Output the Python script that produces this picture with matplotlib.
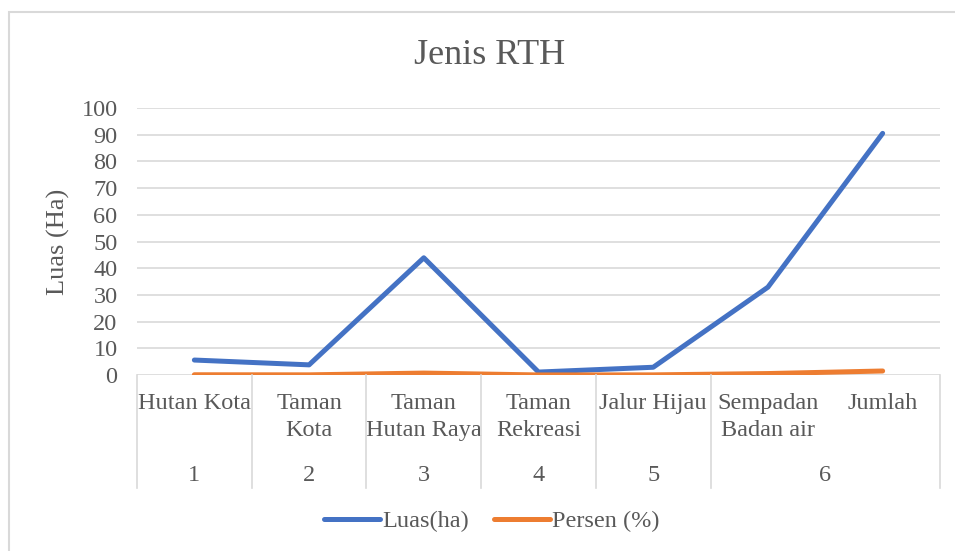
import matplotlib.pyplot as plt
from matplotlib.patches import Rectangle
from matplotlib.lines import Line2D
import matplotlib.transforms as mtransforms

plt.rcParams['font.family'] = ['Liberation Serif', 'DejaVu Serif']

# data
jenis = ["Hutan Kota", "Taman\nKota", "Taman\nHutan Raya", "Taman\nRekreasi",
         "Jalur Hijau", "Sempadan\nBadan air", "Jumlah"]
nomor = ["1", "2", "3", "4", "5", "6"]
nomor_pos = [0, 1, 2, 3, 4, 5.5]
luas = [5.6, 3.8, 43.9, 1.1, 2.9, 32.9, 90.5]
persen = [0.09, 0.06, 0.72, 0.02, 0.05, 0.54, 1.5]

TEXT = '#595959'
GRID = '#d9d9d9'
W, H = 955, 551
FS = 17.5

fig = plt.figure(figsize=(W / 100, H / 100), dpi=100)
ax = fig.add_axes([137 / W, 1 - 375 / H, 803 / W, 267 / H])

x = list(range(len(jenis)))
ax.plot(x, luas, color='#4472C4', lw=3.6, solid_capstyle='round',
        solid_joinstyle='round', label='Luas(ha)')
ax.plot(x, persen, color='#ED7D31', lw=3.6, solid_capstyle='round',
        solid_joinstyle='round', label='Persen (%)')

ax.set_xlim(-0.5, len(jenis) - 0.5)
ax.set_ylim(0, 100)
ax.set_yticks(range(0, 101, 10))
ax.grid(axis='y', color=GRID, lw=1.2)
ax.set_axisbelow(True)
for s in ax.spines.values():
    s.set_visible(False)

ax.tick_params(axis='y', length=0, pad=14, labelsize=FS, labelcolor=TEXT)
ax.set_xticks(x)
ax.set_xticklabels(jenis, linespacing=1.35)
ax.tick_params(axis='x', length=0, pad=13, labelsize=FS, labelcolor=TEXT)

# second level of the category axis
trans = mtransforms.blended_transform_factory(ax.transData, ax.transAxes)
for pos, n in zip(nomor_pos, nomor):
    ax.text(pos, -0.375, n, transform=trans, ha='center', va='center',
            fontsize=FS, color=TEXT)
for b in [-0.5, 0.5, 1.5, 2.5, 3.5, 4.5, 6.5]:
    ax.add_line(Line2D([b, b], [0, -0.423], transform=trans, color=GRID,
                       lw=1.2, clip_on=False))

ax.set_ylabel('Luas (Ha)', fontsize=19, color=TEXT)
ax.yaxis.set_label_coords(-0.083, 0.5)

fig.text(490 / W, 1 - 55 / H, 'Jenis RTH', ha='center', va='center',
         fontsize=26, color=TEXT)

fig.legend(loc='center', bbox_to_anchor=(492 / W, 1 - 521 / H), ncol=2,
           frameon=False, fontsize=FS, labelcolor=TEXT, handlelength=2.3,
           handletextpad=0.1, columnspacing=1.0)

# chart area border
fig.add_artist(Rectangle((9 / W, -0.05), 1.1, 1 - 12 / H + 0.05,
                         transform=fig.transFigure, fill=False,
                         edgecolor=GRID, lw=1.5))

fig.savefig('out.png', dpi=100)
